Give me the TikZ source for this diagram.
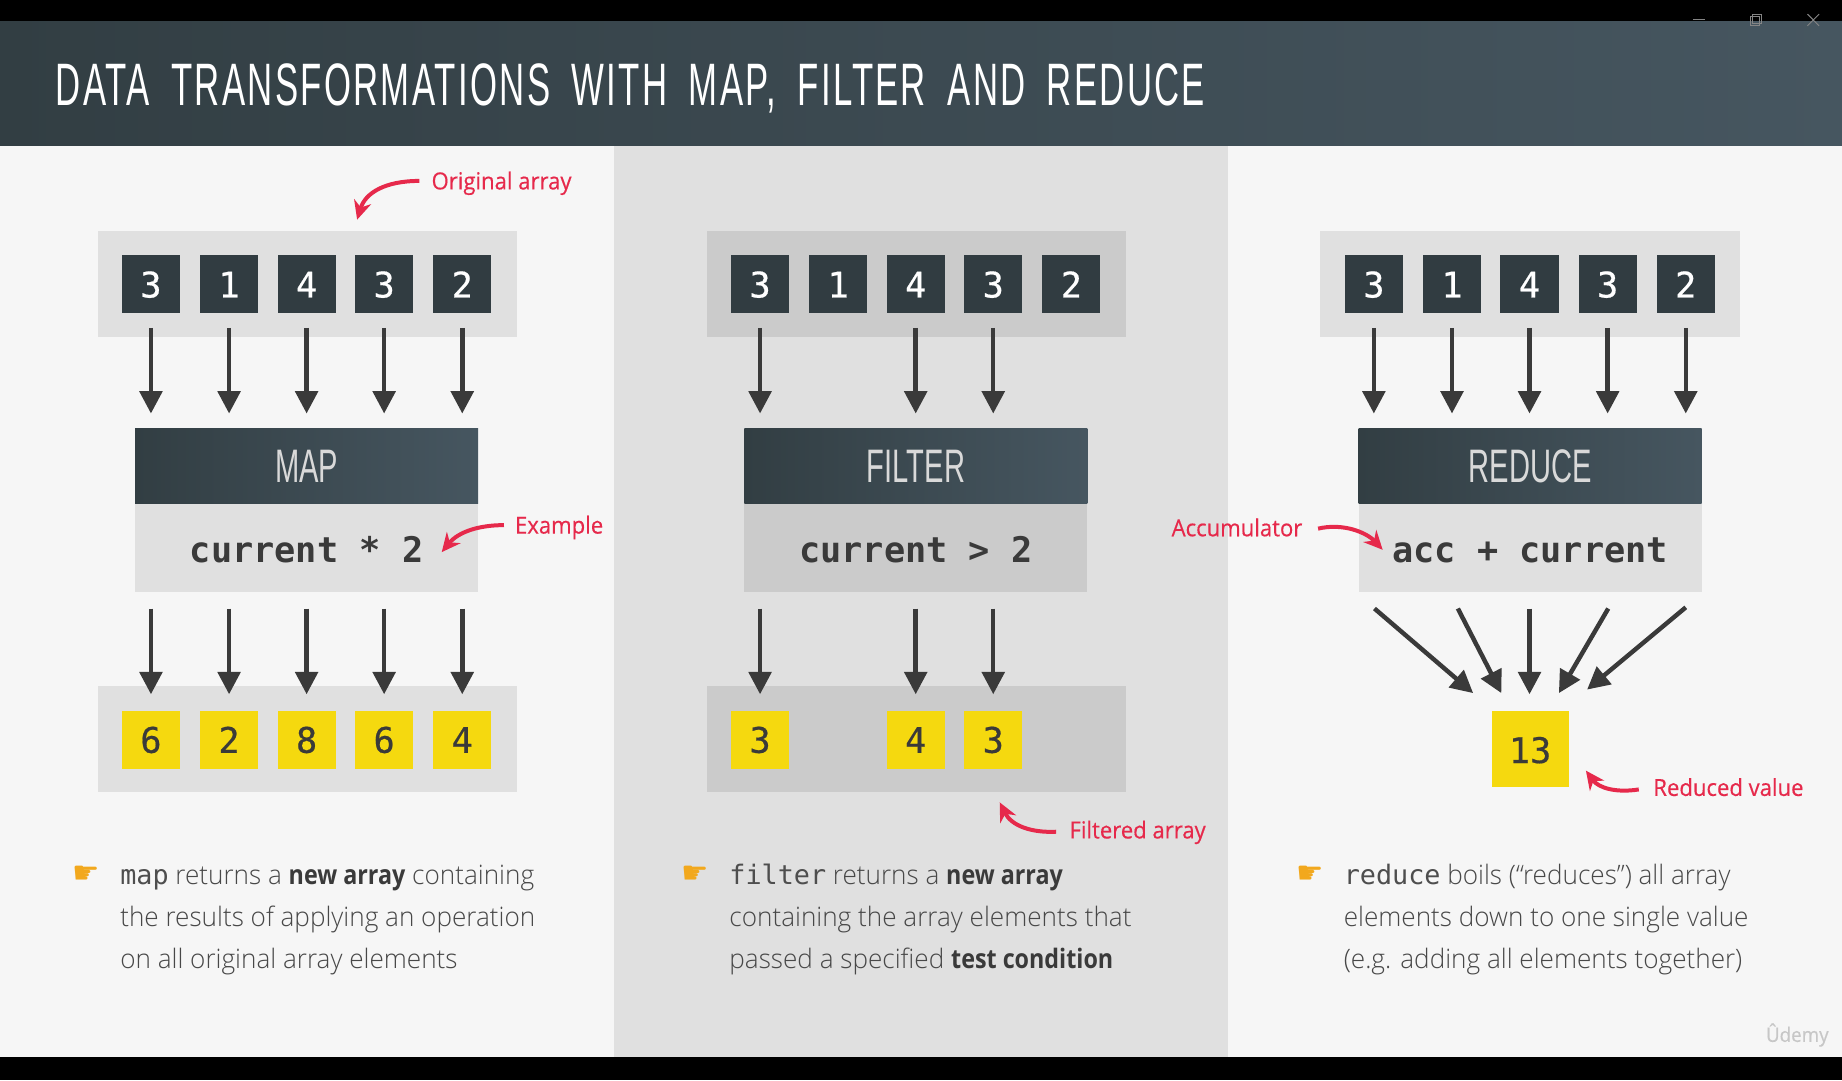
\documentclass[tikz,border=0pt]{standalone}
\usepackage{fontspec}
\usetikzlibrary{arrows.meta,calc}
\setmainfont{Open Sans}[UprightFont=* Light,BoldFont=* Bold,UprightFeatures={FakeStretch=0.975},BoldFeatures={FakeStretch=0.87}]
\newfontfamily\monof{DejaVu Sans Mono}
\newfontfamily\numf[FakeBold=0.5]{DejaVu Sans Mono}
\newfontfamily\dejav{DejaVu Sans}
\newfontfamily\titlef[FakeStretch=0.58,LetterSpace=3.8,WordSpace=1.8]{Liberation Sans}
\newfontfamily\fnf[FakeStretch=0.62]{Liberation Sans}
\newfontfamily\labf[FakeStretch=0.94,FakeBold=0.4]{Open Sans}
\definecolor{blk}{HTML}{000000}
\definecolor{panelL}{HTML}{F6F6F6}
\definecolor{panelM}{HTML}{E0E0E0}
\definecolor{rowM}{HTML}{CBCBCB}
\definecolor{darkL}{HTML}{323E43}
\definecolor{darkR}{HTML}{465660}
\definecolor{boxd}{HTML}{313C41}
\definecolor{yel}{HTML}{F5D90F}
\definecolor{arr}{HTML}{3A3A3A}
\definecolor{red1}{HTML}{E6294B}
\definecolor{bodyc}{HTML}{484848}
\definecolor{hand}{HTML}{F2A81D}
\definecolor{ctrl}{HTML}{858585}
\tikzset{
  x=0.5pt,y=-0.5pt,
  flat/.style={draw=none,inner sep=0,outer sep=0},
  darkbox/.style={flat,fill=boxd,minimum size=24.75pt,text=white,font=\numf\fontsize{15}{15}\selectfont},
  yelbox/.style={flat,fill=yel,minimum size=24.75pt,text=arr,font=\numf\fontsize{15}{15}\selectfont},
  fn/.style={flat,minimum width=146pt,minimum height=32pt,left color=darkL,right color=darkR,text=white!85!black,font=\fnf\fontsize{20}{20}\selectfont},
  code/.style={flat,minimum width=146pt,minimum height=37.5pt,text=arr,font=\monof\bfseries\fontsize{15}{15}\selectfont},
  row/.style={flat,minimum width=178.5pt,minimum height=45pt},
  flow/.style={draw=arr,line width=1.9pt,-{Triangle[length=9.5pt,width=9.5pt]}},
  note/.style={draw=red1,line width=1.7pt,-{Stealth[length=8pt,width=7.5pt]}},
  notelab/.style={inner sep=0,text=red1,font=\labf\fontsize{10}{12}\selectfont},
  bodytxt/.style={inner sep=0,anchor=north west,text=bodyc,align=left,font=\fontsize{11.4}{18}\selectfont},
  handm/.style={inner sep=0,text=hand,font=\dejav\fontsize{13}{13}\selectfont},
  wctl/.style={draw=ctrl,line width=.4pt}
}
\newcommand{\mn}[1]{\strut{\monof\color{arr!90!white}#1}}
\newcommand{\bd}[1]{{\bfseries\color{arr}#1}}
\newcommand{\bl}[2]{\raisebox{-#1pt}[0pt][0pt]{#2}}
\begin{document}
\begin{tikzpicture}
\useasboundingbox (0,0) rectangle (1568,919.37);
\fill[blk] (0,0) rectangle (1568,919.37);
\fill[panelL] (0,124) rectangle (1568,900);
\fill[panelM] (523,124) rectangle (1045,900);
\shade[left color=darkL,right color=darkR] (0,18) rectangle (1568,124);
\node[inner sep=0,anchor=base west,text=white,font=\titlef\fontsize{25.5}{25.5}\selectfont] (title) at (47,90) {DATA TRANSFORMATIONS WITH MAP, FILTER AND REDUCE};
% window controls
\coordinate (wa) at (1441,16.5); \coordinate (wb) at (1451,16.5);
\draw[wctl] (wa) -- (wb);
\draw[wctl] (1491.7,11.9) rectangle (1499.7,20.4);
\draw[wctl] (1490,13.6) rectangle (1498,21.9);
\draw[wctl] (1538.6,12) -- (1548.5,22) (1548.5,12) -- (1538.6,22);

% ---- MAP column
\node[row,fill=panelM] (r1) at (261.5,242) {};
\node[row,fill=panelM] (r2) at (261.5,629) {};
\foreach \n/\x/\t in {a/128.5/3,b/195/1,c/261/4,d/327/3,e/393.5/2}{
  \node[darkbox] (map\n) at (\x,242) {\bl{5.6}{\t}};
  \coordinate (mapin\n) at (\x,279);
  \coordinate (mapto\n) at (\x,352);
  \draw[flow] (mapin\n) -- (mapto\n);
  \coordinate (mapout\n) at (\x,518);
  \coordinate (mapend\n) at (\x,591);
  \draw[flow] (mapout\n) -- (mapend\n);
}
\node[fn] (mapf) at (261,397) {MAP};
\node[code,fill=panelM] (mapc) at (261,466.5) {\bl{6.2}{current * 2}};
\foreach \n/\x/\t in {a/128.5/6,b/195/2,c/261/8,d/327/6,e/393.5/4}{
  \node[yelbox] (mapy\n) at (\x,630) {\bl{5.4}{\t}};
}
% ---- FILTER column
\node[row,fill=rowM] (s1) at (780,242) {};
\node[row,fill=rowM] (s2) at (780,629) {};
\foreach \n/\x/\t in {a/647/3,b/713.5/1,c/779.5/4,d/845.5/3,e/912/2}{
  \node[darkbox] (fil\n) at (\x,242) {\bl{5.6}{\t}};
}
\foreach \n/\x in {a/647,c/779.5,d/845.5}{
  \coordinate (filin\n) at (\x,279);
  \coordinate (filto\n) at (\x,352);
  \draw[flow] (filin\n) -- (filto\n);
  \coordinate (filout\n) at (\x,518);
  \coordinate (filend\n) at (\x,591);
  \draw[flow] (filout\n) -- (filend\n);
}
\node[fn] (filf) at (779.7,397) {FILTER};
\node[code,fill=rowM] (filc) at (779.7,466.5) {\bl{6.2}{current > 2}};
\foreach \n/\x/\t in {a/647/3,c/779.5/4,d/845.5/3}{
  \node[yelbox] (fily\n) at (\x,630) {\bl{5.4}{\t}};
}
% ---- REDUCE column
\node[row,fill=panelM] (t1) at (1302.5,242) {};
\foreach \n/\x/\t in {a/1169.5/3,b/1236/1,c/1302/4,d/1368.5/3,e/1435/2}{
  \node[darkbox] (red\n) at (\x,242) {\bl{5.6}{\t}};
  \coordinate (redin\n) at (\x,279);
  \coordinate (redto\n) at (\x,352);
  \draw[flow] (redin\n) -- (redto\n);
}
\node[fn] (redf) at (1302.5,397) {REDUCE};
\node[code,fill=panelM] (redc) at (1302.5,466.5) {\bl{6.2}{acc + current}};
\node[flat,fill=yel,minimum width=32.75pt,minimum height=32.5pt,text=arr,font=\numf\fontsize{15}{15}\selectfont] (res) at (1302.5,637.5) {\bl{6}{13}};
\coordinate (ra) at (1170,518); \coordinate (rae) at (1254,590);
\coordinate (rb) at (1241,518); \coordinate (rbe) at (1278,590);
\coordinate (rc) at (1302,518); \coordinate (rce) at (1302,591);
\coordinate (rd) at (1369,518); \coordinate (rde) at (1327,590);
\coordinate (re) at (1435,517); \coordinate (ree) at (1351,587);
\draw[flow] (ra) -- (rae);
\draw[flow] (rb) -- (rbe);
\draw[flow] (rc) -- (rce);
\draw[flow] (rd) -- (rde);
\draw[flow] (re) -- (ree);

% ---- red notes
\node[notelab,anchor=west] (n1) at (367,156) {Original array};
\coordinate (n1a) at (357,154); \coordinate (n1b) at (304,187);
\draw[note] (n1a) .. controls (328,154) and (311,164) .. (n1b);
\node[notelab,anchor=west] (n2) at (438,449) {Example};
\coordinate (n2a) at (429,447); \coordinate (n2b) at (376,470);
\draw[note] (n2a) .. controls (407,447) and (390,453) .. (n2b);
\node[notelab,anchor=east] (n3) at (1109,449) {Accumulator};
\coordinate (n3a) at (1122,450); \coordinate (n3b) at (1177,468);
\draw[note] (n3a) .. controls (1143,445) and (1163,453) .. (n3b);
\node[notelab,anchor=west] (n4) at (1407,670) {Reduced value};
\coordinate (n4a) at (1395,672); \coordinate (n4b) at (1350,656);
\draw[note] (n4a) .. controls (1376,675) and (1361,671) .. (n4b);
\node[notelab,anchor=west] (n5) at (910,708.5) {Filtered array};
\coordinate (n5a) at (899,708); \coordinate (n5b) at (851,683);
\draw[note] (n5a) .. controls (878,709) and (861,703) .. (n5b);

% ---- bullet texts
\node[handm] (h1) at (73,745) {☛};
\node[bodytxt] (b1) at (102,727) {\mn{map} returns a \bd{new array} containing\\the results of applying an operation\\on all original array elements};
\node[handm] (h2) at (592,745) {☛};
\node[bodytxt] (b2) at (620.5,727) {\mn{filter} returns a \bd{new array}\\containing the array elements that\\passed a specified \bd{test condition}};
\node[handm] (h3) at (1115,745) {☛};
\node[bodytxt] (b3) at (1143.5,727) {\mn{reduce} boils (“reduces”) all array\\elements down to one single value\\(e.g. adding all elements together)};
\node[inner sep=0,anchor=east,text=black!22,font=\labf\fontsize{8.5}{9}\selectfont] (wm) at (1557,881) {Ûdemy};
\end{tikzpicture}
\end{document}
